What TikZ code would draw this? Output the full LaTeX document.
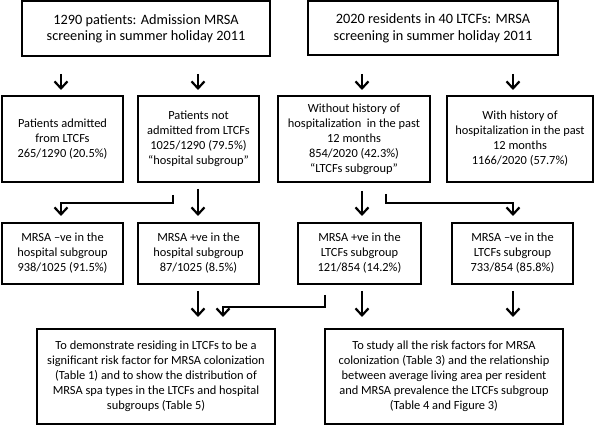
\documentclass[tikz,border=0pt]{standalone}
\usepackage{fontspec}
\setmainfont{Carlito}
\usetikzlibrary{arrows.meta}
\begin{document}
\begin{tikzpicture}[x=1pt,y=-1pt,
  box/.style={draw, line width=2pt, inner sep=0pt, align=center, font=\fontsize{12.4}{15}\selectfont},
  topbox/.style={box, font=\fontsize{14.3}{16.5}\selectfont},
  arr/.style={line width=2.2pt, -{Straight Barb[length=7pt,width=13pt]}}]
\useasboundingbox (0,0) rectangle (600,427);
% top row
\node[topbox, minimum width=248pt, minimum height=54.5pt] (top1) at (146,28.75) {1290 patients: Admission MRSA\\screening in summer holiday 2011};
\node[topbox, minimum width=250pt, minimum height=53.5pt] (top2) at (433,28.25) {2020 residents in 40 LTCFs: MRSA\\screening in summer holiday 2011};
% second row
\node[box, minimum width=121pt, minimum height=86pt] (A) at (62.5,139) {Patients admitted\\from LTCFs\\265/1290 (20.5\%)};
\node[box, minimum width=121pt, minimum height=86pt] (B) at (198.5,139) {Patients not\\admitted from LTCFs\\1025/1290 (79.5\%)\\“hospital subgroup”};
\node[box, minimum width=152pt, minimum height=86pt] (C) at (354,139) {Without history of\\hospitalization\ \ in the past\\12 months\\854/2020 (42.3\%)\\“LTCFs subgroup”};
\node[box, minimum width=146pt, minimum height=86pt] (D) at (520,139) {With history of\\hospitalization in the past\\12 months\\1166/2020 (57.7\%)};
% third row
\node[box, minimum width=121pt, minimum height=61pt] (E) at (62.5,253.5) {MRSA –ve in the\\hospital subgroup\\938/1025 (91.5\%)};
\node[box, minimum width=121pt, minimum height=61pt] (F) at (198.5,253.5) {MRSA +ve in the\\hospital subgroup\\87/1025 (8.5\%)};
\node[box, minimum width=123pt, minimum height=61pt] (G) at (359.5,253.5) {MRSA +ve in the\\LTCFs subgroup\\121/854 (14.2\%)};
\node[box, minimum width=121pt, minimum height=61pt] (H) at (512.5,253.5) {MRSA –ve in the\\LTCFs subgroup\\733/854 (85.8\%)};
% bottom row
\node[box, minimum width=238pt, minimum height=95pt] (I) at (156,376.5) {To demonstrate residing in LTCFs to be a\\significant risk factor for MRSA colonization\\(Table 1) and to show the distribution of\\MRSA spa types in the LTCFs and hospital\\subgroups (Table 5)};
\node[box, minimum width=238pt, minimum height=95pt] (J) at (444,376.5) {To study all the risk factors for MRSA\\colonization (Table 3) and the relationship\\between average living area per resident\\and MRSA prevalence the LTCFs subgroup\\(Table 4 and Figure 3)};
% arrow columns
\coordinate (k1) at (61,0);
\coordinate (k2) at (198,0);
\coordinate (k3) at (362,0);
\coordinate (k4) at (513,0);
\coordinate (k5) at (173,0);
\coordinate (k6) at (386,0);
\coordinate (k7) at (223,0);
\coordinate (k8) at (325,0);
% arrows row 1
\draw[arr, shorten <=17pt, shorten >=5pt] (top1.south -| k1) -- (A.north -| k1);
\draw[arr, shorten <=17pt, shorten >=5pt] (top1.south -| k2) -- (B.north -| k2);
\draw[arr, shorten <=18pt, shorten >=5pt] (top2.south -| k3) -- (C.north -| k3);
\draw[arr, shorten <=18pt, shorten >=5pt] (top2.south -| k4) -- (D.north -| k4);
% arrows row 2
\draw[arr, shorten <=6pt, shorten >=6pt] (B.south -| k2) -- (F.north -| k2);
\draw[arr, shorten <=12pt, shorten >=6pt] (B.south -| k5) -- ++(0,20) -| (E.north -| k1);
\draw[arr, shorten <=8pt, shorten >=6pt] (C.south -| k3) -- (G.north -| k3);
\draw[arr, shorten <=11pt, shorten >=6pt] (C.south -| k6) -- ++(0,20) -| (H.north -| k4);
% arrows row 3
\draw[arr, shorten <=6pt, shorten >=11pt] (F.south -| k2) -- (I.north -| k2);
\draw[arr, shorten <=10pt, shorten >=11pt] (G.south -| k8) -- ++(0,22) -| (I.north -| k7);
\draw[arr, shorten <=6pt, shorten >=11pt] (G.south -| k3) -- (J.north -| k3);
\draw[arr, shorten <=6pt, shorten >=11pt] (H.south -| k4) -- (J.north -| k4);
\end{tikzpicture}
\end{document}
